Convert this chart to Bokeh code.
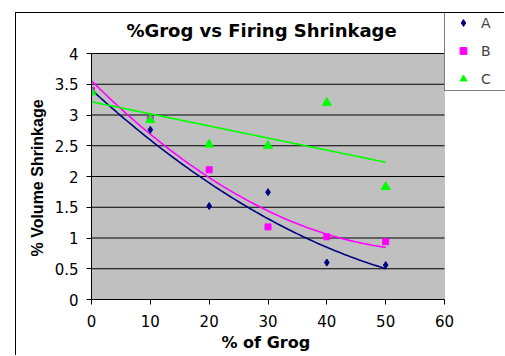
import numpy as np
from bokeh.plotting import figure
from bokeh.models import (Range1d, FixedTicker, Legend, LegendItem, BoxAnnotation,
                          Label, Title)
from bokeh.embed import file_html
from bokeh.resources import INLINE

# Percent grog in the clay body
grog_pct = [0, 10, 20, 30, 40, 50]

# Volume shrinkage (%) after firing, three test series
series_a = [3.38, 2.76, 1.52, 1.745, 0.60, 0.56]
series_b = [3.40, 2.93, 2.11, 1.18, 1.02, 0.94]
series_c = [3.37, 2.92, 2.52, 2.50, 3.20, 1.83]

x_ticks = [0, 10, 20, 30, 40, 50, 60]
y_ticks = [0, 0.5, 1, 1.5, 2, 2.5, 3, 3.5, 4]
y_tick_labels = ["0", "0.5", "1", "1.5", "2", "2.5", "3", "3.5", "4"]

# trendline types: second-order polynomial for A and B, linear for C
trend_degree = {"A": 2, "B": 2, "C": 1}

# pixel geometry of the chart area
AREA_W, AREA_H = 353, 246          # grey plot area
FRAME_W, FRAME_H = 414, 286        # drawing frame (also holds legend and title)
x0, x1 = x_ticks[0], x_ticks[-1]
y0, y1 = y_ticks[0], y_ticks[-1]

p = figure(
    width=489, height=343,
    output_backend="svg", toolbar_location=None,
    x_range=Range1d(x0, x0 + (x1 - x0) * FRAME_W / AREA_W),
    y_range=Range1d(y0, y0 + (y1 - y0) * FRAME_H / AREA_H),
    min_border_left=75, min_border_right=0,
    min_border_top=0, min_border_bottom=57,
)
p.margin = (12, 0, 0, 15)
p.styles = {"border-left": "1px solid #000000", "border-top": "1px solid #000000"}

p.background_fill_color = "white"
p.border_fill_color = "white"
p.outline_line_color = None
p.grid.visible = False

# grey plot area
p.add_layout(BoxAnnotation(left=x0, right=x1, bottom=y0, top=y1,
                           fill_color="#C0C0C0", fill_alpha=1.0,
                           line_color="#808080", line_width=1, level="underlay"))

# horizontal gridlines at each y tick
p.segment(x0=[x0] * len(y_ticks), x1=[x1] * len(y_ticks), y0=y_ticks, y1=y_ticks,
          line_color="black", line_width=1)

p.xaxis.ticker = FixedTicker(ticks=x_ticks)
p.yaxis.ticker = FixedTicker(ticks=y_ticks)
p.xaxis.bounds = (x0, x1)
p.yaxis.bounds = (y0, y1)
p.yaxis.major_label_overrides = {t: s for t, s in zip(y_ticks, y_tick_labels)}

for ax in (p.xaxis, p.yaxis):
    ax.axis_line_color = "black"
    ax.major_tick_line_color = "black"
    ax.minor_tick_line_color = None
    ax.major_tick_out = 5
    ax.major_tick_in = 0
    ax.major_label_text_font = "DejaVu Sans"
    ax.major_label_text_font_size = "15px"
    ax.major_label_text_color = "black"

p.xaxis.major_label_standoff = 10
p.yaxis.major_label_standoff = 8

# axis titles, centred on the grey plot area rather than the whole frame
p.add_layout(Title(text="% of Grog", align="left", offset=130, standoff=3,
                   text_font="DejaVu Sans", text_font_style="bold",
                   text_font_size="16px", text_color="black"), "below")
p.add_layout(Title(text="% Volume Shrinkage", align="left", offset=43, standoff=12,
                   text_font="Liberation Sans", text_font_style="bold",
                   text_font_size="16px", text_color="black"), "left")

styles = {
    "A": dict(data=series_a, color="#000080", marker="diamond", size=7),
    "B": dict(data=series_b, color="#FF00FF", marker="square", size=6),
    "C": dict(data=series_c, color="#00FF00", marker="triangle", size=9),
}

xs = np.array(grog_pct, dtype=float)
x_fine = np.linspace(min(grog_pct), max(grog_pct), 101)

# fitted trendlines
for name, st in styles.items():
    coeffs = np.polyfit(xs, np.array(st["data"]), trend_degree[name])
    p.line(x_fine, np.polyval(coeffs, x_fine), line_color=st["color"], line_width=1.6)

markers = {}
for name, st in styles.items():
    markers[name] = p.scatter(grog_pct, st["data"], marker=st["marker"], size=st["size"],
                              fill_color=st["color"], line_color=st["color"])

# chart title, centred over the plot area
p.add_layout(Label(x=(x0 + x1) / 2 - 1.1, y=y1 + (y1 - y0) * 23 / AREA_H,
                   text="%Grog vs Firing Shrinkage", text_align="center",
                   text_baseline="middle", text_font="DejaVu Sans",
                   text_font_style="bold", text_font_size="18px", text_color="black"))

legend = Legend(
    items=[LegendItem(label=n, renderers=[markers[n]]) for n in ["A", "B", "C"]],
    location=(AREA_W, 208),
    margin=0, padding=3,
    glyph_width=30, glyph_height=17, label_height=17, label_width=40,
    label_standoff=3, spacing=11,
    label_text_font="DejaVu Sans", label_text_font_size="14px",
    border_line_color="black", border_line_width=1,
    background_fill_color="white", background_fill_alpha=1.0,
)
p.add_layout(legend)

open("out.html", "w").write(file_html(p, INLINE))
